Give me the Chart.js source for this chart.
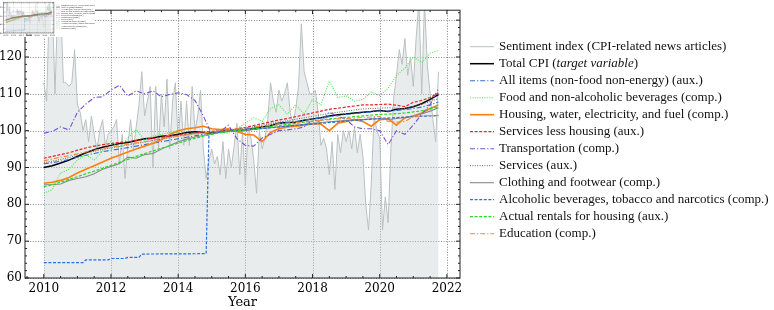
<!DOCTYPE html>
<html>
<head>
<meta charset="utf-8">
<script src="https://cdn.jsdelivr.net/npm/chart.js@4.4.1/dist/chart.umd.min.js"></script>
<style>
  html, body { margin: 0; padding: 0; background: #fff; }
  #wrap { position: relative; width: 774px; height: 310px; }
  #main { position: absolute; left: 0; top: 0; }
  #mini { position: absolute; left: 0; top: 0; background: #fff; }
</style>
</head>
<body>
<div id="wrap">
  <canvas id="main" width="774" height="310"></canvas>
  <canvas id="mini" width="95" height="37"></canvas>
</div>
<script>
// meses contados a partir de jan/2010
const mesesSent = Array.from({ length: 142 }, (_, i) => i);
const mesesTri = Array.from({ length: 48 }, (_, i) => i * 3);
const mesesAlc = [0, 14, 15, 23, 24, 29, 30, 34, 35, 58, 59, 66, 72, 84, 96, 108, 120, 132, 141];

const xTicks = [2010, 2012, 2014, 2016, 2018, 2020, 2022];
const yTicks = [60, 70, 80, 90, 100, 110, 120, 130];

const legendas = [
  'Sentiment index (CPI-related news articles)',
  'Total CPI (target variable)',
  'All items (non-food non-energy) (aux.)',
  'Food and non-alcoholic beverages (comp.)',
  'Housing, water, electricity, and fuel (comp.)',
  'Services less housing (aux.)',
  'Transportation (comp.)',
  'Services (aux.)',
  'Clothing and footwear (comp.)',
  'Alcoholic beverages, tobacco and narcotics (comp.)',
  'Actual rentals for housing (aux.)',
  'Education (comp.)'
];

// índice de sentimento (mensal)
const sentimento = [
  113, 108, 135, 135, 110, 135, 135, 113, 113, 112, 113, 122,
  107, 105, 100, 103, 97, 104, 99, 95, 100, 103, 96, 99,
  100, 101, 103, 91, 99, 87, 96, 103, 95, 101, 107, 116,
  104, 108, 112, 90, 112, 95, 110, 101, 114, 95, 108, 113,
  97, 108, 96, 108, 96, 112, 100, 104, 111, 95, 87, 92,
  95, 91, 93, 88, 97, 87, 95, 90, 96, 102, 88, 100,
  85, 101, 98, 92, 83, 100, 95, 98, 103, 113, 108, 105,
  111, 108, 110, 113, 105, 102, 106, 112, 129, 116, 113, 110,
  110, 111, 105, 96, 98, 95, 88, 97, 84, 99, 94, 100,
  97, 100, 95, 101, 94, 99, 93, 80, 73, 86, 104, 100,
  98, 73, 82, 75, 95, 109, 115, 122, 118, 125, 115, 120,
  112, 125, 135, 110, 135, 118, 110, 103, 97, 116
];

// séries de preços (trimestrais)
const totalCpi = [
  90.0, 90.5, 91.2, 92.0, 93.0, 94.0, 94.8, 95.5, 96.0, 96.5, 96.8, 97.3,
  97.8, 98.0, 98.5, 98.6, 99.0, 99.5, 99.7, 99.5, 99.4, 99.8, 100.1, 100.0,
  100.2, 100.6, 101.0, 101.4, 102.0, 102.2, 102.3, 102.8, 103.2, 103.5, 104.0, 104.3,
  104.5, 104.8, 105.0, 105.2, 105.5, 105.2, 105.8, 106.0, 106.5, 107.3, 108.5, 109.8
];
const allItems = [
  91.0, 91.3, 91.7, 92.2, 92.8, 93.3, 93.8, 94.3, 94.7, 95.0, 95.4, 95.8,
  96.2, 96.6, 97.0, 97.4, 97.8, 98.2, 98.6, 99.0, 99.4, 99.7, 100.0, 100.2,
  100.5, 100.8, 101.2, 101.5, 101.9, 102.2, 102.5, 102.8, 103.2, 103.5, 103.8, 104.1,
  104.4, 104.6, 104.9, 105.1, 105.4, 105.3, 105.5, 105.7, 106.0, 106.4, 107.0, 107.8
];
const food = [
  83.0, 84.0, 88.5, 89.5, 92.0, 93.5, 92.0, 94.5, 97.0, 95.5, 98.0, 100.3,
  97.5, 98.5, 99.0, 99.5, 99.5, 99.2, 99.0, 99.3, 99.7, 99.5, 99.3, 100.5,
  102.0, 103.5, 102.5, 106.0, 107.0, 104.5, 107.0, 104.5, 108.5, 107.0, 113.5, 109.0,
  109.5, 108.0, 108.5, 110.5, 109.5, 111.5, 115.0, 117.0, 120.0, 118.5, 121.0, 121.8
];
const housing = [
  85.7, 86.0, 86.5, 87.3, 88.5, 89.5, 90.5, 91.5, 92.5, 93.3, 94.2, 95.0,
  95.8, 96.6, 97.5, 99.0, 100.0, 100.5, 100.8, 101.2, 100.5, 100.3, 100.5, 99.8,
  99.0, 98.8, 97.0, 99.5, 100.5, 101.0, 101.2, 101.5, 101.8, 101.8, 100.0, 102.0,
  102.5, 103.0, 102.5, 101.2, 103.0, 103.2, 101.5, 103.5, 104.0, 104.8, 106.0, 107.0
];
const servLessHousing = [
  92.5, 93.0, 93.5, 94.0, 94.7, 95.3, 95.8, 96.2, 96.5, 96.8, 97.0, 97.3,
  97.6, 97.9, 98.2, 98.5, 98.8, 99.1, 99.4, 99.6, 99.8, 100.0, 100.2, 100.5,
  100.9, 101.4, 101.9, 102.4, 102.9, 103.3, 103.8, 104.3, 104.8, 105.3, 105.8, 106.1,
  106.4, 106.7, 107.0, 107.0, 107.1, 107.2, 106.9, 106.5, 107.7, 108.2, 109.0, 110.2
];
const transport = [
  99.3, 99.8, 101.0, 100.2, 105.0, 107.2, 109.0, 109.2, 111.0, 112.3, 109.4, 110.8,
  110.0, 110.8, 109.2, 109.8, 110.3, 109.8, 108.2, 104.0, 99.0, 99.7, 101.5, 97.8,
  96.0, 95.8, 98.0, 99.0, 100.0, 100.2, 100.5, 101.0, 103.0, 102.5, 105.0, 104.0,
  103.0, 101.0, 100.5, 100.5, 100.0, 96.2, 100.0, 99.0, 101.5, 104.5, 107.0, 111.5
];
const services = [
  91.3, 91.7, 92.2, 92.7, 93.3, 93.9, 94.4, 94.9, 95.3, 95.7, 96.1, 96.5,
  96.9, 97.3, 97.7, 98.1, 98.5, 98.9, 99.3, 99.6, 99.8, 100.0, 100.2, 100.4,
  100.7, 101.1, 101.5, 101.9, 102.3, 102.7, 103.1, 103.5, 103.9, 104.3, 104.7, 105.0,
  105.3, 105.6, 105.9, 106.0, 106.1, 106.2, 106.1, 106.0, 106.6, 107.2, 107.9, 108.7
];
const clothing = [
  85.3, 85.3, 85.5, 86.5, 87.0, 87.5, 88.3, 89.5, 90.3, 91.0, 92.8, 92.5,
  93.5, 93.8, 95.0, 96.0, 97.0, 97.7, 98.3, 98.7, 99.2, 99.6, 99.8, 99.9,
  100.0, 100.3, 100.5, 100.8, 101.0, 101.3, 101.5, 101.7, 102.0, 102.2, 102.4, 102.6,
  102.8, 103.0, 103.0, 103.2, 103.2, 103.0, 103.3, 103.5, 104.0, 104.5, 105.3, 106.2
];
const alcohol = [64.2, 64.2, 64.9, 64.9, 65.3, 65.3, 65.6, 65.6, 66.5, 66.6, 99.2, 99.8, 100.2, 101.0, 101.8, 102.6, 103.3, 103.8, 104.1];
const rentals = [
  84.8, 85.3, 86.0, 86.8, 87.5, 88.3, 89.0, 89.8, 90.6, 91.4, 92.2, 93.0,
  93.8, 94.5, 95.2, 95.9, 96.6, 97.3, 97.9, 98.5, 99.0, 99.4, 99.8, 100.0,
  100.2, 100.5, 100.8, 101.1, 101.4, 101.7, 102.0, 102.3, 102.6, 102.9, 103.2, 103.4,
  103.6, 103.8, 104.0, 104.2, 104.4, 104.5, 104.6, 104.8, 105.1, 105.4, 105.9, 106.5
];
const education = [
  91.8, 92.3, 92.8, 93.2, 93.7, 94.2, 94.7, 95.1, 95.5, 95.9, 96.3, 96.7,
  97.0, 97.4, 97.8, 98.2, 98.5, 98.8, 99.1, 99.4, 99.7, 100.0, 100.2, 100.5,
  100.7, 101.0, 101.2, 101.5, 101.8, 102.0, 102.2, 102.4, 102.6, 102.8, 103.0, 103.2,
  103.3, 103.4, 103.6, 103.7, 103.8, 102.5, 102.3, 102.5, 103.8, 104.0, 104.1, 104.2
];

const DD = [5, 2, 1.2, 2];   // traço-ponto
const TR = [3, 1.6];         // tracejado
const PT = [1, 1.4];         // pontilhado

const series = [
  { meses: mesesSent, vals: sentimento, cor: 'rgb(186,193,193)', w: 1, dash: [] },
  { meses: mesesTri, vals: totalCpi, cor: '#000000', w: 1.5, dash: [] },
  { meses: mesesTri, vals: allItems, cor: '#2f6fd8', w: 1.1, dash: DD },
  { meses: mesesTri, vals: food, cor: '#4be84b', w: 1.1, dash: PT },
  { meses: mesesTri, vals: housing, cor: '#ff7f0e', w: 1.6, dash: [] },
  { meses: mesesTri, vals: servLessHousing, cor: '#e3262b', w: 1.2, dash: TR },
  { meses: mesesTri, vals: transport, cor: '#7650d8', w: 1.1, dash: DD },
  { meses: mesesTri, vals: services, cor: '#666666', w: 1, dash: PT },
  { meses: mesesTri, vals: clothing, cor: '#8a8a8a', w: 1.1, dash: [] },
  { meses: mesesAlc, vals: alcohol, cor: '#2a6fdb', w: 1.2, dash: TR },
  { meses: mesesTri, vals: rentals, cor: '#22dd22', w: 1.2, dash: TR },
  { meses: mesesTri, vals: education, cor: '#f08a3c', w: 1.1, dash: DD }
];

function pontos(meses, vals) {
  return vals.map((v, i) => ({ x: 2010 + meses[i] / 12, y: v }));
}

function montaDatasets(k) {
  return series.map((s, i) => ({
    label: legendas[i],
    data: pontos(s.meses, s.vals),
    borderColor: s.cor,
    borderWidth: s.w * k,
    borderDash: s.dash.map(d => d * k),
    backgroundColor: i === 0 ? 'rgba(200,208,208,0.4)' : s.cor,
    fill: i === 0 ? 'start' : false,
    pointRadius: 0,
    tension: 0,
    order: i === 0 ? 50 : 20 - i
  }));
}

// grade pontilhada por baixo das séries
const grade = {
  id: 'grade',
  beforeDatasetsDraw(chart, args, opts) {
    const { ctx, chartArea: a, scales: { x, y } } = chart;
    const k = opts.k;
    ctx.save();
    ctx.strokeStyle = 'rgba(70,80,80,0.85)';
    ctx.lineWidth = 0.8 * k;
    ctx.setLineDash([1 * k, 1.6 * k]);
    ctx.beginPath();
    xTicks.forEach(v => {
      const px = Math.round(x.getPixelForValue(v)) + 0.5;
      ctx.moveTo(px, a.top); ctx.lineTo(px, a.bottom);
    });
    yTicks.forEach(v => {
      const py = Math.round(y.getPixelForValue(v)) + 0.5;
      if (py < a.top) return;
      ctx.moveTo(a.left, py); ctx.lineTo(a.right, py);
    });
    ctx.stroke();
    ctx.restore();
  }
};

// moldura com marcas para dentro nos quatro lados
const moldura = {
  id: 'moldura',
  afterDraw(chart, args, opts) {
    const { ctx, chartArea: a, scales: { x, y } } = chart;
    const k = opts.k;
    ctx.save();
    ctx.strokeStyle = '#222';
    ctx.lineWidth = k;
    ctx.setLineDash([]);
    ctx.strokeRect(a.left, a.top, a.right - a.left, a.bottom - a.top);
    ctx.beginPath();
    for (let v = 2009.5; v <= 2022.4; v += 0.5) {
      const px = x.getPixelForValue(v);
      if (px < a.left || px > a.right) continue;
      const len = (v % 2 === 0 ? 4 : 2) * k;
      ctx.moveTo(px, a.bottom); ctx.lineTo(px, a.bottom - len);
      ctx.moveTo(px, a.top); ctx.lineTo(px, a.top + len);
    }
    for (let v = 60; v <= 132; v += 2) {
      const py = y.getPixelForValue(v);
      if (py < a.top || py > a.bottom) continue;
      const len = (v % 10 === 0 ? 4 : 2) * k;
      ctx.moveTo(a.left, py); ctx.lineTo(a.left + len, py);
      ctx.moveTo(a.right, py); ctx.lineTo(a.right - len, py);
    }
    ctx.stroke();
    ctx.restore();
  }
};

// legenda desenhada à direita
const legenda = {
  id: 'legenda',
  afterDraw(chart, args, o) {
    const ctx = chart.ctx;
    ctx.save();
    ctx.textBaseline = 'middle';
    ctx.fillStyle = '#111';
    series.forEach((s, i) => {
      const yy = o.y0 + i * o.dy;
      ctx.strokeStyle = s.cor;
      ctx.lineWidth = s.w * o.k;
      ctx.setLineDash(s.dash.map(d => d * o.k));
      ctx.beginPath();
      ctx.moveTo(o.x0, yy);
      ctx.lineTo(o.x0 + o.len, yy);
      ctx.stroke();
      const tx = o.x0 + o.len + o.gap;
      if (i === 1) {
        const p1 = 'Total CPI (', p2 = 'target variable', p3 = ')';
        ctx.font = o.size + 'px "Liberation Serif"';
        ctx.fillText(p1, tx, yy);
        const w1 = ctx.measureText(p1).width;
        ctx.font = 'italic ' + o.size + 'px "Liberation Serif"';
        ctx.fillText(p2, tx + w1, yy);
        const w2 = ctx.measureText(p2).width;
        ctx.font = o.size + 'px "Liberation Serif"';
        ctx.fillText(p3, tx + w1 + w2, yy);
      } else {
        ctx.font = o.size + 'px "Liberation Serif"';
        ctx.fillText(legendas[i], tx, yy);
      }
    });
    ctx.restore();
  }
};

function opcoes(k, pad, larguraY, alturaX, fonte, leg) {
  return {
    responsive: false,
    animation: false,
    devicePixelRatio: 1,
    layout: { padding: pad },
    plugins: {
      legend: { display: false },
      tooltip: { enabled: false },
      grade: { k },
      moldura: { k },
      legenda: leg
    },
    scales: {
      x: {
        type: 'linear',
        min: 2009.44,
        max: 2022.39,
        afterFit: s => { s.height = alturaX; },
        afterBuildTicks: s => { s.ticks = xTicks.map(v => ({ value: v })); },
        ticks: {
          callback: v => String(v),
          font: { family: '"DejaVu Serif"', size: fonte },
          color: '#000',
          padding: 4 * k,
          maxRotation: 0,
          autoSkip: false
        },
        grid: { display: false, drawTicks: false },
        border: { display: false },
        title: {
          display: true,
          text: 'Year',
          font: { family: '"DejaVu Serif"', size: fonte + 1 },
          color: '#000',
          padding: { top: 0, bottom: 0 }
        }
      },
      y: {
        min: 60,
        max: 132.7,
        afterFit: s => { s.width = larguraY; },
        afterBuildTicks: s => { s.ticks = yTicks.map(v => ({ value: v })); },
        ticks: {
          callback: v => String(v),
          font: { family: '"DejaVu Serif"', size: fonte },
          color: '#000',
          padding: 3 * k
        },
        grid: { display: false, drawTicks: false },
        border: { display: false }
      }
    }
  };
}

new Chart(document.getElementById('main'), {
  type: 'line',
  data: { datasets: montaDatasets(1) },
  options: opcoes(1, { top: 3, right: 314, left: 0, bottom: 0 }, 25, 32, 12,
    { k: 1, x0: 470, y0: 46.7, dy: 17, len: 24, gap: 5, size: 13 }),
  plugins: [grade, moldura, legenda]
});

// miniatura no canto superior esquerdo
new Chart(document.getElementById('mini'), {
  type: 'line',
  data: { datasets: montaDatasets(0.3) },
  options: opcoes(0.3, { top: 1, right: 41, left: 0, bottom: 0 }, 3.5, 4, 2,
    { k: 0.3, x0: 56, y0: 5, dy: 2.1, len: 4, gap: 1, size: 2 }),
  plugins: [grade, moldura, legenda]
});
</script>
</body>
</html>
